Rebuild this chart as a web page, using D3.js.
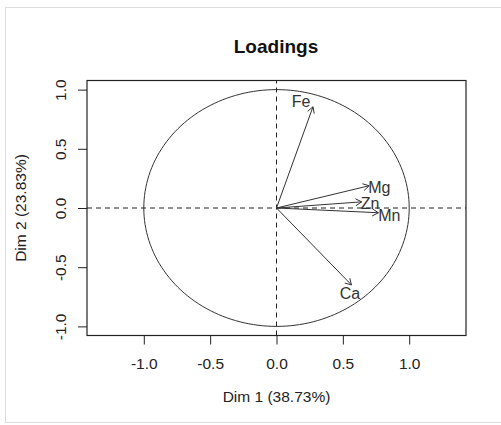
<!DOCTYPE html>
<html lang="en">
<head>
    <meta charset="UTF-8">
    <title>loadings</title>
    <script src="https://d3js.org/d3.v7.min.js"></script>
    <style>
        body { margin: 0; background: #fff; }
        .axis text {
            font-family: "Liberation Sans", Arial, sans-serif;
            font-size: 15.5px;
            fill: #222;
        }
        .axis line { stroke: #222; }
    </style>
</head>
<body>
<script>
    const width = 501
    const height = 425

    // variable loadings on Dim 1 / Dim 2
    const vars = ['Fe', 'Mg', 'Zn', 'Mn', 'Ca']
    const dim1 = [0.275, 0.698, 0.642, 0.768, 0.565]
    const dim2 = [0.855, 0.188, 0.052, -0.040, -0.650]
    // where the labels sit (data units)
    const labX = [0.185, 0.775, 0.705, 0.85, 0.553]
    const labY = [0.900, 0.172, 0.040, -0.058, -0.722]
    const ticks = [-1.0, -0.5, 0.0, 0.5, 1.0]

    const font = '"Liberation Sans", Arial, sans-serif'

    const x = d3.scaleLinear().domain([-1.428, 1.428]).range([87, 466])
    const y = d3.scaleLinear().domain([-1.077, 1.077]).range([335.5, 80.5])

    const svg = d3.select("body").append("svg")
        .attr("width", width)
        .attr("height", height)

    // light frame round the picture
    svg.append("rect")
        .attr("x", 5.5).attr("y", 7.5)
        .attr("width", 510).attr("height", 415)
        .attr("fill", "none")
        .attr("stroke", "#dcdcdc")

    svg.append("text")
        .text("Loadings")
        .attr("x", 276).attr("y", 53)
        .attr("text-anchor", "middle")
        .attr("font-family", font)
        .attr("font-weight", "bold")
        .attr("font-size", 19)
        .attr("fill", "#111")

    // unit circle (drawn in data units, so it is an ellipse on screen)
    const circ = d3.range(0, 361, 2).map(a => [Math.cos(a * Math.PI / 180), Math.sin(a * Math.PI / 180)])
    svg.append("path")
        .attr("d", d3.line().x(d => x(d[0])).y(d => y(d[1]))(circ))
        .attr("fill", "none")
        .attr("stroke", "#333")
        .attr("stroke-width", 1)

    // dashed zero lines
    svg.append("line")
        .attr("x1", x.range()[0]).attr("x2", x.range()[1])
        .attr("y1", y(0)).attr("y2", y(0))
        .attr("stroke", "#222").attr("stroke-dasharray", "5,4")
    svg.append("line")
        .attr("x1", x(0)).attr("x2", x(0))
        .attr("y1", y.range()[0]).attr("y2", y.range()[1])
        .attr("stroke", "#222").attr("stroke-dasharray", "5,4")

    // arrows
    const g = svg.append("g")
        .attr("stroke", "#333")
        .attr("stroke-width", 1)
        .attr("fill", "none")
    vars.forEach(function (v, i) {
        const x0 = x(0), y0 = y(0)
        const x1 = x(dim1[i]), y1 = y(dim2[i])
        g.append("line")
            .attr("x1", x0).attr("y1", y0)
            .attr("x2", x1).attr("y2", y1)
        const ang = Math.atan2(y1 - y0, x1 - x0)
        const len = 7, spread = Math.PI / 6
        const p = [
            [x1 - len * Math.cos(ang - spread), y1 - len * Math.sin(ang - spread)],
            [x1, y1],
            [x1 - len * Math.cos(ang + spread), y1 - len * Math.sin(ang + spread)]
        ]
        g.append("path").attr("d", d3.line()(p))
    })

    svg.selectAll(".lab")
        .data(vars)
        .enter()
        .append("text")
        .attr("class", "lab")
        .text(d => d)
        .attr("x", (d, i) => x(labX[i]))
        .attr("y", (d, i) => y(labY[i]))
        .attr("text-anchor", "middle")
        .attr("dy", "0.36em")
        .attr("font-family", font)
        .attr("font-size", 16)
        .attr("fill", "#333")

    // axes
    const fmt = d => d.toFixed(1)
    const xAxis = svg.append("g")
        .attr("class", "axis")
        .attr("transform", "translate(0," + y.range()[0] + ")")
        .call(d3.axisBottom(x).tickValues(ticks).tickFormat(fmt).tickSize(9).tickPadding(13))
    xAxis.select(".domain").remove()

    const yAxis = svg.append("g")
        .attr("class", "axis")
        .attr("transform", "translate(" + x.range()[0] + ",0)")
        .call(d3.axisLeft(y).tickValues(ticks).tickFormat(fmt).tickSize(9))
    yAxis.select(".domain").remove()
    yAxis.selectAll("text")
        .attr("transform", "rotate(-90)")
        .attr("text-anchor", "middle")
        .attr("x", 0)
        .attr("y", -21)
        .attr("dy", 0)

    // plot box
    svg.append("rect")
        .attr("x", x.range()[0]).attr("y", y.range()[1])
        .attr("width", x.range()[1] - x.range()[0])
        .attr("height", y.range()[0] - y.range()[1])
        .attr("fill", "none")
        .attr("stroke", "#222")
        .attr("stroke-width", 1.2)

    svg.append("text")
        .text("Dim 1 (38.73%)")
        .attr("x", x(0)).attr("y", 402)
        .attr("text-anchor", "middle")
        .attr("font-family", font)
        .attr("font-size", 15.5)
        .attr("fill", "#222")

    svg.append("text")
        .text("Dim 2 (23.83%)")
        .attr("transform", "translate(26," + y(0) + ") rotate(-90)")
        .attr("text-anchor", "middle")
        .attr("font-family", font)
        .attr("font-size", 15.5)
        .attr("fill", "#222")
</script>
</body>
</html>
